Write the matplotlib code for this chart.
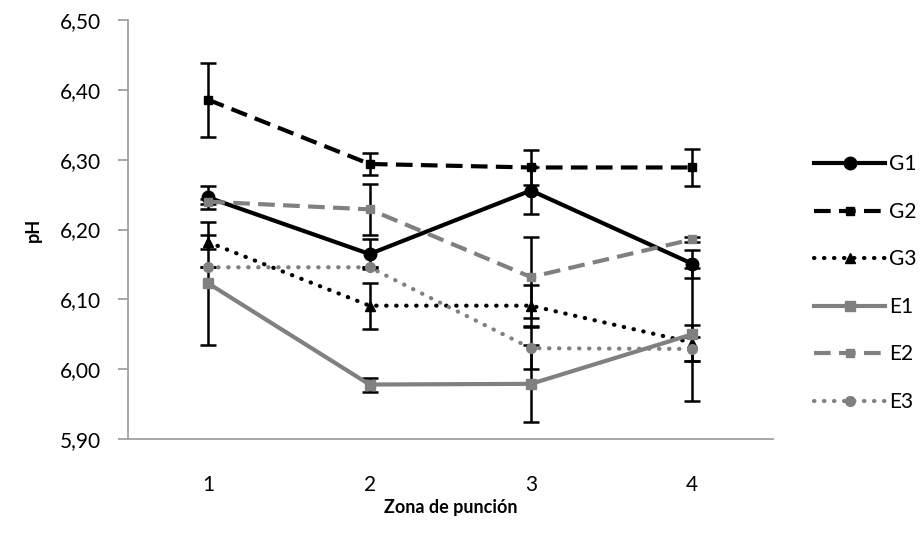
import matplotlib
matplotlib.use("Agg")
import matplotlib.pyplot as plt

plt.rcParams['font.family'] = ['Lato', 'DejaVu Sans']

zones = [1, 2, 3, 4]
series_names = ["G1", "G2", "G3", "E1", "E2", "E3"]
g1 = [6.246, 6.165, 6.256, 6.151]
g2 = [6.386, 6.294, 6.289, 6.289]
g3 = [6.182, 6.091, 6.091, 6.038]
e1 = [6.123, 5.978, 5.979, 6.050]
e2 = [6.240, 6.229, 6.132, 6.186]
e3 = [6.146, 6.146, 6.030, 6.029]
g1_err = [0.017, 0.022, 0.033, 0.020]
g2_err = [0.053, 0.016, 0.025, 0.027]
g3_err = [0.010, 0.033, 0.029, 0.026]
e1_err = [0.088, 0.010, 0.055, 0.095]
e2_err = [0.004, 0.037, 0.058, 0.004]
e3_err = [0.0, 0.0, 0.030, 0.017]
yticks = [5.90, 6.00, 6.10, 6.20, 6.30, 6.40, 6.50]

fig = plt.figure(figsize=(9.24, 5.46), dpi=100)
ax = fig.add_axes([0.138, 0.196, 0.6986, 0.767])

gray = "#808080"
styles = [
    (g1, g1_err, dict(color="black", ls="-", marker="o", ms=9)),
    (g2, g2_err, dict(color="black", ls=(0, (4, 2)), marker="s", ms=6)),
    (g3, g3_err, dict(color="black", ls=(0, (0.1, 2.3)), marker="^", ms=7, dash_capstyle="round")),
    (e1, e1_err, dict(color=gray, ls="-", marker="s", ms=7)),
    (e2, e2_err, dict(color=gray, ls=(0, (4, 2)), marker="s", ms=6)),
    (e3, e3_err, dict(color=gray, ls=(0, (0.1, 2.3)), marker="o", ms=7, dash_capstyle="round")),
]

for name, (vals, errs, st) in zip(series_names, styles):
    ax.errorbar(zones, vals, yerr=errs, fmt="none", ecolor="black",
                elinewidth=1.8, capsize=6, capthick=1.8, zorder=2)
    ax.plot(zones, vals, lw=3, label=name, zorder=3, **st)

ax.set_xlim(0.5, 4.5)
ax.set_ylim(5.90, 6.50)
ax.set_yticks(yticks)
ax.set_yticklabels([f"{v:.2f}".replace(".", ",") for v in yticks])
ax.set_xticks(zones)
ax.set_xticklabels([str(z) for z in zones])
for s in ["top", "right"]:
    ax.spines[s].set_visible(False)
for s in ["left", "bottom"]:
    ax.spines[s].set_color("#a0a0a0")
    ax.spines[s].set_linewidth(1.3)
ax.tick_params(axis="y", length=7, width=1.3, color="#a0a0a0", labelsize=15, pad=12)
ax.tick_params(axis="x", length=0, labelsize=15, pad=26)

ax.set_ylabel("pH", fontsize=13, fontweight="bold", labelpad=13)
ax.set_xlabel("Zona de punción", fontsize=13, fontweight="bold", labelpad=3)

leg = ax.legend(loc="center left", bbox_to_anchor=(1.035, 0.372), frameon=False,
                fontsize=15, handlelength=3.4, handletextpad=0.2, labelspacing=1.32)

fig.savefig("out.png", dpi=100)
